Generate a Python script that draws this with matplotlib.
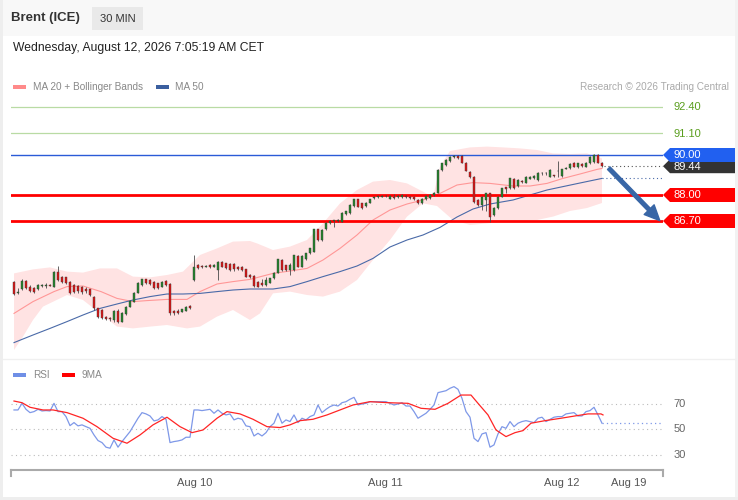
import matplotlib
matplotlib.use('Agg')
import matplotlib.pyplot as plt
from matplotlib.patches import Polygon, Rectangle
from matplotlib.transforms import blended_transform_factory

plt.rcParams['font.family'] = ['Liberation Sans', 'DejaVu Sans']

###############################################################
# Brent (ICE) 30 min bars
opens = [83.63, 83.12, 83.30, 83.72, 83.42, 83.33, 83.28, 83.46, 83.47, 83.50,
         83.42, 84.13, 83.92, 83.88, 83.67, 83.50, 83.46, 83.42, 83.30, 83.28,
         82.92, 82.33, 82.25, 81.92, 81.84, 81.76, 82.20, 81.67, 82.05, 82.42,
         82.67, 83.12, 83.50, 83.78, 83.75, 83.67, 83.58, 83.42, 83.70, 83.55,
         82.22, 82.22, 82.17, 82.22, 82.47, 83.75, 84.50, 84.45, 84.42, 84.50,
         84.42, 84.25, 84.67, 84.58, 84.55, 84.55, 84.42, 84.42, 84.28, 84.00,
         83.95, 83.67, 83.62, 83.50, 83.62, 83.83, 84.12, 84.75, 84.50, 84.25,
         84.25, 84.95, 84.42, 84.80, 85.08, 85.17, 86.28, 85.75, 86.28, 86.62,
         86.70, 86.68, 86.67, 87.05, 87.08, 87.45, 87.78, 87.58, 87.45, 87.62,
         87.86, 87.88, 87.92, 87.93, 87.82, 87.90, 87.90, 87.88, 87.95, 87.92,
         87.90, 87.75, 87.58, 87.80, 87.83, 88.00, 88.12, 89.25, 89.50, 89.70,
         89.92, 89.95, 89.95, 89.62, 89.17, 88.92, 87.75, 87.50, 87.75, 88.08,
         87.00, 87.33, 87.92, 88.38, 88.33, 88.80, 88.45, 88.72, 88.62, 88.82,
         88.85, 88.75, 89.08, 89.10, 88.92, 88.96, 89.18, 88.95, 89.30, 89.33,
         89.62, 89.40, 89.55, 89.42, 89.58, 89.67, 90.00, 89.62]
closes = [83.05, 83.16, 83.72, 83.33, 83.22, 83.17, 83.50, 83.49, 83.50, 83.47,
          84.17, 83.75, 83.67, 83.58, 83.10, 83.14, 83.18, 83.13, 83.19, 82.98,
          82.33, 81.92, 81.83, 81.80, 81.80, 82.20, 81.67, 82.12, 82.42, 82.72,
          83.12, 83.62, 83.78, 83.58, 83.55, 83.33, 83.33, 83.67, 83.50, 82.08,
          82.08, 82.12, 82.28, 82.42, 82.33, 84.42, 84.33, 84.42, 84.45, 84.38,
          84.48, 84.67, 84.42, 84.33, 84.25, 84.28, 84.30, 84.25, 83.92, 83.92,
          83.45, 83.42, 83.50, 83.75, 83.83, 84.12, 84.78, 84.25, 84.25, 84.50,
          85.00, 84.42, 84.95, 85.08, 85.33, 86.28, 85.75, 86.25, 86.62, 86.70,
          86.72, 86.74, 87.12, 87.18, 87.50, 87.78, 87.42, 87.33, 87.62, 87.78,
          87.90, 87.93, 87.95, 87.96, 87.95, 87.86, 87.93, 88.00, 87.90, 87.87,
          87.78, 87.58, 87.80, 87.95, 88.00, 88.12, 89.25, 89.58, 89.75, 89.92,
          89.96, 89.85, 89.62, 89.22, 88.92, 87.67, 87.50, 87.92, 88.08, 86.92,
          87.33, 87.92, 88.33, 88.30, 88.83, 88.35, 88.75, 88.65, 88.92, 88.90,
          88.97, 89.12, 89.10, 89.08, 89.25, 88.95, 89.22, 89.28, 89.33, 89.55,
          89.42, 89.58, 89.45, 89.62, 89.92, 90.00, 89.62, 89.44]
highs = [83.68, 83.35, 83.78, 83.76, 83.48, 83.38, 83.55, 83.56, 83.62, 83.56,
         84.22, 84.45, 83.96, 83.90, 83.70, 83.54, 83.50, 83.45, 83.38, 83.32,
         82.96, 82.36, 82.28, 81.96, 81.90, 82.25, 82.30, 82.16, 82.46, 82.76,
         83.16, 83.66, 83.82, 83.82, 83.78, 83.70, 83.62, 83.70, 83.74, 83.58,
         82.26, 82.28, 82.32, 82.45, 82.50, 85.00, 84.55, 84.50, 84.52, 84.54,
         84.56, 84.70, 84.72, 84.62, 84.58, 84.58, 84.46, 84.45, 84.32, 84.04,
         83.98, 83.70, 83.78, 83.90, 83.86, 84.15, 84.82, 84.78, 84.52, 84.62,
         85.02, 84.98, 84.98, 85.12, 85.36, 86.32, 86.32, 86.30, 86.66, 86.74,
         86.76, 86.78, 87.16, 87.22, 87.54, 87.82, 87.82, 87.62, 87.66, 87.82,
         87.94, 87.96, 87.98, 88.00, 87.98, 88.06, 87.98, 88.04, 88.00, 87.96,
         87.94, 87.78, 87.84, 87.98, 88.04, 88.16, 89.30, 89.62, 89.78, 89.96,
         90.00, 89.99, 89.98, 89.66, 89.20, 88.96, 87.80, 87.96, 88.12, 88.12,
         87.38, 87.96, 88.36, 88.42, 88.86, 88.84, 88.78, 88.76, 88.95, 88.94,
         89.00, 89.16, 89.14, 89.14, 89.28, 89.00, 89.72, 89.32, 89.38, 89.58,
         89.65, 89.62, 89.60, 89.66, 89.96, 90.04, 90.04, 89.66]
lows = [82.98, 83.05, 83.27, 83.28, 83.15, 83.10, 83.24, 83.42, 83.36, 83.44,
        83.40, 83.72, 83.60, 83.54, 83.04, 83.08, 83.12, 83.05, 83.12, 82.94,
        82.25, 81.86, 81.78, 81.74, 81.72, 81.64, 81.60, 81.64, 82.02, 82.40,
        82.65, 83.08, 83.46, 83.55, 83.50, 83.30, 83.28, 83.38, 83.46, 82.02,
        82.00, 82.06, 82.14, 82.20, 82.28, 83.70, 84.28, 84.36, 84.38, 84.34,
        84.38, 83.75, 84.38, 84.28, 84.20, 84.22, 84.26, 84.20, 83.88, 83.86,
        83.40, 83.38, 83.44, 83.46, 83.58, 83.80, 84.08, 84.20, 84.22, 84.00,
        84.22, 84.38, 84.38, 84.76, 85.05, 85.14, 85.70, 85.72, 86.25, 86.55,
        86.40, 86.64, 86.64, 87.02, 87.05, 87.42, 87.38, 87.28, 87.42, 87.58,
        87.82, 87.84, 87.88, 87.88, 87.78, 87.82, 87.86, 87.84, 87.86, 87.82,
        87.74, 87.54, 87.55, 87.76, 87.80, 87.96, 88.08, 89.20, 89.46, 89.66,
        89.86, 89.80, 89.58, 89.18, 88.85, 87.60, 87.44, 87.24, 87.20, 86.67,
        86.95, 87.28, 87.88, 88.10, 88.30, 88.30, 88.40, 88.60, 88.58, 88.78,
        88.80, 88.72, 89.00, 89.02, 88.88, 88.92, 88.88, 88.92, 89.28, 89.30,
        89.38, 89.36, 89.40, 89.38, 89.55, 89.62, 89.58, 89.38]

# moving averages / bands (bar index, value)
ma20_i = [0, 4.75, 10, 13.25, 17.25, 21.75, 25.75, 29.75, 33.25, 38.25, 43.25, 46.5,
          50.75, 54.75, 59, 64.75, 69, 73.25, 77.25, 81.5, 85.75, 89.75, 94, 98.25,
          102.25, 106.5, 110.75, 114.75, 119, 124.75, 129, 133.25, 137.25, 141.5, 145.75, 147]
ma20_v = [82.08, 82.67, 83.17, 83.42, 83.45, 83.17, 82.83, 82.67, 82.72, 82.78, 82.78, 83.17,
          83.55, 83.67, 83.78, 84.08, 84.20, 84.33, 84.75, 85.33, 86.00, 86.75, 87.25, 87.55,
          87.75, 88.08, 88.50, 88.62, 88.58, 88.45, 88.45, 88.58, 88.83, 89.05, 89.28, 89.33]
ma50_i = [0, 4.75, 9, 13.25, 17.25, 21.5, 25.75, 29.75, 34, 38.25, 42.25, 46.5, 50.75,
          54.75, 59, 64.75, 69, 73.25, 77.25, 81.5, 85.75, 89.75, 94, 98.25, 102.25,
          106.5, 110.75, 114.75, 119, 124.75, 129, 133.25, 137.25, 141.5, 147]
ma50_v = [80.62, 81.00, 81.33, 81.67, 82.00, 82.33, 82.55, 82.75, 82.92, 83.05, 83.05, 83.08, 83.17,
          83.25, 83.30, 83.30, 83.42, 83.67, 83.92, 84.17, 84.45, 84.83, 85.40, 85.75, 86.00,
          86.38, 86.90, 87.30, 87.55, 87.75, 88.00, 88.25, 88.42, 88.60, 88.83]
bb_up_i = [0, 4.75, 9, 13.25, 17.25, 21.5, 25.75, 29.75, 34, 38.25, 42.25, 46.5, 50.75,
           54.75, 59, 60.75, 64.75, 69, 73.25, 77.25, 81.5, 85.75, 89.75, 94, 98.25,
           102.25, 104.75, 106.5, 109, 114, 118.25, 122.25, 126.5, 130.75, 134.75,
           139, 143.25, 147]
bb_up_v = [84.08, 84.28, 84.38, 84.17, 84.12, 84.33, 84.33, 83.92, 83.88, 84.00, 84.17, 85.00, 85.33,
           85.67, 85.70, 85.58, 85.25, 85.42, 85.75, 86.58, 87.58, 88.25, 88.67, 88.75, 88.58,
           88.17, 87.90, 89.42, 90.20, 90.38, 90.42, 90.38, 90.33, 90.25, 90.08,
           90.05, 90.08, 89.83]
bb_lo_i = [0, 2.25, 4.75, 7.25, 13.25, 17.25, 21.5, 25.75, 29.75, 34, 38.25, 43.25, 46.5,
           50.75, 54.75, 59, 61.5, 64.75, 69, 73.25, 77.25, 81.5, 85.75, 89.75, 94,
           98.25, 102.25, 105.75, 109.75, 114, 118.25, 122.25, 126.5, 130.75, 134.75,
           139, 143.25, 147]
bb_lo_v = [80.25, 80.92, 81.75, 82.42, 83.00, 82.75, 82.08, 81.42, 81.33, 81.42, 81.50, 81.33, 81.42,
           81.92, 82.25, 81.75, 82.08, 83.08, 83.17, 83.00, 82.92, 83.17, 83.75, 84.75, 85.75,
           86.92, 87.58, 87.45, 86.75, 86.50, 86.58, 86.67, 86.67, 86.75, 86.92,
           87.20, 87.35, 87.60]

levels = [92.40, 91.10, 90.00, 88.00, 86.70]
level_kind = ['res', 'res', 'pivot', 'sup', 'sup']
target = 86.70

# RSI panel
rsi_i = [0, 1, 2, 3, 4, 5, 6, 7, 8, 9, 10, 11, 12, 13, 14, 15, 16, 17, 18, 19,
         20, 21, 22, 23, 24, 25, 26, 27, 28, 29, 30, 31, 32, 33, 34, 35, 36, 37, 38, 39,
         40, 41, 42, 43, 44, 45, 46, 47, 48, 49, 50, 51, 52, 53, 54, 55, 56, 57, 58, 59,
         60, 61, 62, 63, 64, 65, 66, 67, 68, 69, 70, 71, 72, 73, 74, 75, 76, 77, 78, 79,
         80, 81, 82, 83, 84, 85, 86, 87, 88, 89, 91, 93, 95, 96, 97, 98, 99, 100, 101, 103,
         104, 105, 106, 108, 109, 110, 111, 112, 113, 114, 115, 116, 117, 118, 119, 120,
         121, 122, 123, 124, 125, 126, 127, 128, 130, 131, 132, 133, 135, 136, 137, 138,
         140, 141, 142, 143, 144, 145, 146, 147]
rsi_v = [65.3, 65.3, 70.5, 65.8, 63.2, 64.0, 65.8, 64.5, 64.8, 64.5, 70.5, 64.0, 64.0, 60.1, 53.0, 55.4, 52.8, 53.6, 52.2, 50.9,
         45.7, 41.3, 39.7, 36.1, 35.3, 41.8, 36.1, 40.5, 44.4, 48.3, 53.6, 58.8, 63.2, 62.2, 60.6, 56.7, 57.5, 60.1, 58.0, 39.7,
         40.5, 41.0, 41.8, 43.9, 43.9, 65.3, 65.3, 64.8, 65.3, 65.8, 62.7, 65.3, 62.7, 61.4, 62.2, 57.5, 58.8, 58.0, 52.8, 52.2,
         44.9, 47.0, 44.9, 47.5, 52.2, 54.9, 62.7, 54.9, 57.5, 56.2, 61.4, 55.4, 58.8, 57.5, 60.1, 61.4, 69.2, 63.2, 65.8, 67.9,
         69.2, 68.4, 71.0, 71.8, 73.7, 75.2, 69.2, 70.0, 70.5, 71.8, 71.8, 71.8, 69.2, 70.0, 71.0, 68.4, 68.4, 64.0, 58.8, 62.7,
         65.8, 69.2, 78.9, 80.4, 82.3, 83.6, 81.5, 74.4, 64.0, 59.6, 43.1, 40.5, 46.5, 47.5, 36.1, 37.9,
         46.5, 52.2, 50.9, 56.2, 52.2, 54.9, 56.2, 56.9, 55.4, 58.8, 59.6, 56.2, 59.6, 60.1, 60.1, 62.2,
         63.2, 60.6, 60.6, 64.0, 64.8, 67.4, 61.4, 54.9]
ma9_i = [0, 2, 4, 7.25, 9.75, 13.25, 17.25, 20.75, 24.75, 28.25, 31.5, 34.75, 38.25, 41.5,
         44.5, 47.25, 50.75, 53.25, 56.5, 59.75, 63.25, 66.5, 69, 71.5, 74.75, 78.25, 81.5,
         84.75, 89, 93.5, 98.5, 101.75, 105.25, 108.5, 111.75, 114.25, 116, 118.5, 120.5,
         123, 125.25, 127.25, 129.25, 132.75, 136.75, 140.25, 143.5, 146.75, 147.25]
ma9_v = [72.3, 71.0, 67.4, 65.3, 65.3, 63.2, 58.8, 52.2, 43.1, 39.2, 45.7, 53.6, 59.6, 52.2,
         47.5, 49.6, 58.8, 64.0, 62.2, 58.0, 52.2, 51.5, 53.6, 56.9, 58.0, 61.4, 65.3,
         69.2, 71.8, 71.0, 70.5, 66.6, 65.8, 70.5, 77.0, 77.0, 70.5, 61.4, 49.6,
         44.4, 47.5, 49.1, 54.9, 56.9, 58.8, 60.6, 62.2, 62.2, 61.4]
rsi_levels = [70, 50, 30]

date_pos = [45.25, 92.75, 137.0, 153.75]
date_lab = ['Aug 10', 'Aug 11', 'Aug 12', 'Aug 19']

###############################################################
W, H = 738, 500
fig = plt.figure(figsize=(W / 100, H / 100), dpi=100)
fig.patch.set_facecolor('white')


def box(l, t, w, h):
    return [l / W, 1 - (t + h) / H, w / W, h / H]


# background / frame (pixel overlay)
bg = fig.add_axes([0, 0, 1, 1], zorder=0)
bg.set_xlim(0, W)
bg.set_ylim(H, 0)
bg.axis('off')
bg.add_patch(Rectangle((0, 0), W, 36, color='#f8f8f8', lw=0))
bg.add_patch(Rectangle((0, 0), 3, H, color='#eeeeee', lw=0))
bg.add_patch(Rectangle((735, 0), 3, H, color='#f2f2f2', lw=0))
bg.add_patch(Rectangle((0, 497), W, 3, color='#eeeeee', lw=0))
bg.plot([3, 735], [359, 359], color='#f0f0f0', lw=1)

XL = (-0.75, 162.25)
n = len(closes)
idx = list(range(n))

# ---------------- price panel ----------------
ax = fig.add_axes(box(11, 95, 652, 255), zorder=2)
ax.set_facecolor('none')
ax.set_xlim(*XL)
ax.set_ylim(80.25, 93.0)
ax.axis('off')

band_x = bb_up_i + bb_lo_i[::-1]
band_y = bb_up_v + bb_lo_v[::-1]
ax.fill(band_x, band_y, color='#ffe3e3', lw=0, zorder=1)
ax.plot(ma20_i, ma20_v, color='#ff9797', lw=0.8, zorder=2)
ax.plot(ma50_i, ma50_v, color='#4a6aa8', lw=0.8, zorder=2)
ax.plot([ma50_i[-1], XL[1]], [ma50_v[-1], ma50_v[-1]], color='#4a6aa8', lw=0.8,
        ls=(0, (1, 2.5)), zorder=2)

lvl_style = {'res': ('#b9dba4', 0.9), 'pivot': ('#2a5bd7', 1.0), 'sup': ('#ff0000', 2.0)}
for lv, k in zip(levels, level_kind):
    c, w = lvl_style[k]
    ax.axhline(lv, color=c, lw=w, zorder=3)

bottoms = [min(o, c) for o, c in zip(opens, closes)]
heights = [max(abs(c - o), 0.035) for o, c in zip(opens, closes)]
cols = ['#23862b' if c >= o else '#e01414' for o, c in zip(opens, closes)]
ax.vlines(idx, lows, highs, color='#4a4a4a', lw=0.6, zorder=4)
ax.bar(idx, heights, bottom=bottoms, width=0.72, color=cols, edgecolor='#3a3a3a',
       linewidth=0.3, zorder=5)

ax.plot([n - 0.6, XL[1]], [closes[-1], closes[-1]], color='#555555', lw=0.8,
        ls=(0, (1, 2.5)), zorder=3)

ax.annotate('', xy=(XL[1] - 0.8, target + 0.02), xytext=(n + 0.7, closes[-1] - 0.1),
            arrowprops=dict(facecolor='#3866a6', edgecolor='#3866a6', width=2.6,
                            headwidth=10, headlength=11, shrink=0),
            annotation_clip=False, zorder=8)

# ---------------- RSI panel ----------------
axr = fig.add_axes(box(11, 380, 652, 90), zorder=2)
axr.set_facecolor('none')
axr.set_xlim(*XL)
axr.set_ylim(18.2, 88.8)
for s in ['top', 'right', 'left']:
    axr.spines[s].set_visible(False)
axr.spines['bottom'].set_color('#aaaaaa')
axr.spines['bottom'].set_linewidth(1.5)
axr.set_yticks([])
for lv in rsi_levels:
    axr.axhline(lv, color='#bbbbbb', lw=0.8, ls=(0, (1, 3)))
axr.plot(rsi_i, rsi_v, color='#7e98e8', lw=0.9)
axr.plot([rsi_i[-1], XL[1]], [rsi_v[-1], rsi_v[-1]], color='#7e98e8', lw=0.9, ls=(0, (1, 2.5)))
axr.plot(ma9_i, ma9_v, color='#ff2525', lw=0.9)
axr.set_xticks(date_pos)
axr.set_xticklabels(date_lab)
axr.tick_params(axis='x', length=0, pad=6, labelsize=8, labelcolor='#555555')
tr = blended_transform_factory(axr.transData, axr.transAxes)
for xe in XL:
    axr.plot([xe, xe], [0, -0.07], color='#aaaaaa', lw=1.5, transform=tr, clip_on=False)
trl = blended_transform_factory(axr.transAxes, axr.transData)
for lv in rsi_levels:
    axr.text(1.0155, lv, str(lv), transform=trl, va='center', ha='left',
             fontsize=8, color='#666666')

# ---------------- text and tags (pixel overlay) ----------------
fg = fig.add_axes([0, 0, 1, 1], zorder=10)
fg.set_facecolor('none')
fg.set_xlim(0, W)
fg.set_ylim(H, 0)
fg.axis('off')

fg.text(11, 18.5, 'Brent (ICE)', fontsize=9.5, fontweight='bold', color='#333333', va='center')
fg.add_patch(Rectangle((92, 7), 51, 23, color='#e9e9e9', lw=0))
fg.text(117.5, 18.5, '30 MIN', fontsize=8, color='#333333', va='center', ha='center')
fg.text(13, 48, 'Wednesday, August 12, 2026 7:05:19 AM CET', fontsize=8.7,
        color='#222222', va='center')

fg.add_patch(Rectangle((13, 84.5), 13, 4, color='#ff8a8a', lw=0))
fg.text(33, 86.5, 'MA 20 + Bollinger Bands', fontsize=7.2, color='#888888', va='center')
fg.add_patch(Rectangle((156, 84.5), 13, 4, color='#3b5f9f', lw=0))
fg.text(175, 86.5, 'MA 50', fontsize=7.2, color='#888888', va='center')
fg.text(729, 86.5, 'Research \u00a9 2026 Trading Central', fontsize=7.2, color='#aaaaaa',
        va='center', ha='right')

fg.add_patch(Rectangle((13, 372.5), 13, 4, color='#6f8fe6', lw=0))
fg.text(33, 374.5, 'RSI', fontsize=7.2, color='#888888', va='center')
fg.add_patch(Rectangle((62, 372.5), 13, 4, color='#ff0000', lw=0))
fg.text(82, 374.5, '9MA', fontsize=7.2, color='#888888', va='center')


def ypix(price):
    return H - ax.transData.transform((0, price))[1]


def tag(price, text, color):
    y = ypix(price)
    fg.add_patch(Polygon([(663, y), (670, y - 7), (735, y - 7), (735, y + 7), (670, y + 7)],
                         closed=True, color=color, lw=0))
    fg.text(673, y + 0.5, text, fontsize=8, color='white', va='center')


tag(closes[-1], '%.2f' % closes[-1], '#333333')
tag_col = {'pivot': '#2160f0', 'sup': '#ff0000'}
for lv, k in zip(levels, level_kind):
    if k == 'res':
        fg.text(673, ypix(lv) + 0.5, '%.2f' % lv, fontsize=8, color='#5a9e1e', va='center')
    else:
        tag(lv, '%.2f' % lv, tag_col[k])

fig.savefig('out.png', dpi=100)
